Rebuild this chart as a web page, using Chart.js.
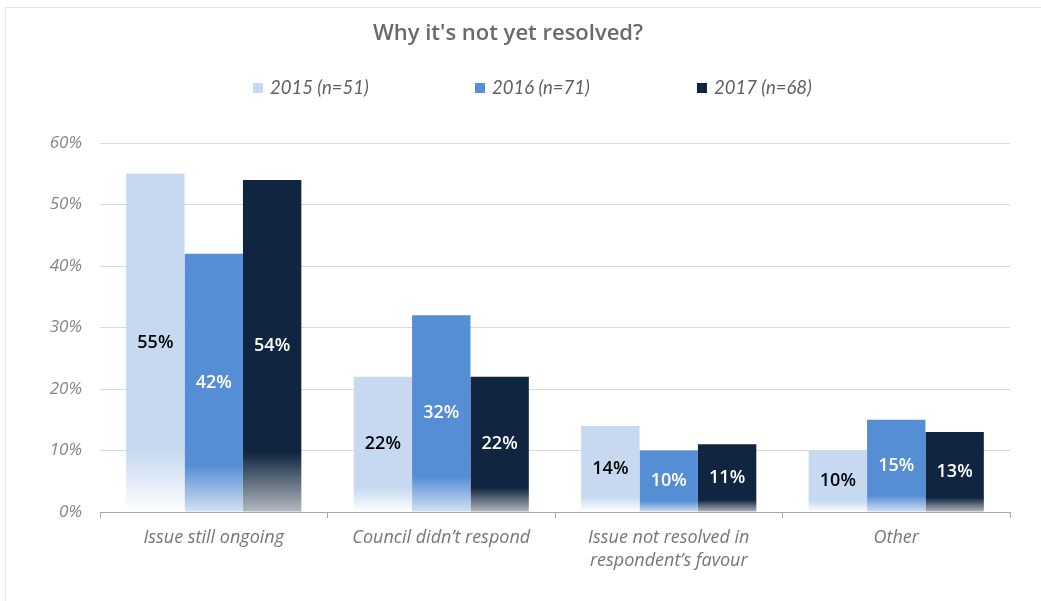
<!DOCTYPE html>
<html lang="en">
  <head>
    <meta charset="UTF-8" />
    <title>Why it's not yet resolved?</title>
    <script src="https://cdn.jsdelivr.net/npm/chart.js@4.4.0/dist/chart.umd.min.js"></script>
    <style>
      body { margin: 0; background: #fff; }
    </style>
  </head>
  <body>
    <canvas id="myChart" width="1041" height="601"></canvas>
    <script>
      const categories = [
        'Issue still ongoing',
        'Council didn\u2019t respond',
        ['Issue not resolved in', 'respondent\u2019s favour'],
        'Other'
      ];
      const seriesNames = ['2015 (n=51)', '2016 (n=71)', '2017 (n=68)'];
      const values2015 = [55, 22, 14, 10];
      const values2016 = [42, 32, 10, 15];
      const values2017 = [54, 22, 11, 13];
      const yTicks = [0, 10, 20, 30, 40, 50, 60];

      const colours = ['#c6d9f1', '#558ed5', '#10253f'];
      const fadeTo = ['#ffffff', '#d3e1f3', '#b4b9c0'];
      const labelColours = ['#000000', '#ffffff', '#ffffff'];

      // solid colour down most of the bar, then a wash out towards the axis
      function barFill(i) {
        return function (ctx) {
          const chart = ctx.chart;
          if (ctx.type !== 'data' || !chart.chartArea || !chart.scales.y) return colours[i];
          const y = chart.scales.y;
          const top = y.getPixelForValue(ctx.raw);
          const base = y.getPixelForValue(0);
          if (!isFinite(top) || base - top < 1) return colours[i];
          const g = chart.ctx.createLinearGradient(0, top, 0, base);
          g.addColorStop(0, colours[i]);
          g.addColorStop(0.82, colours[i]);
          g.addColorStop(1, fadeTo[i]);
          return g;
        };
      }

      const frame = {
        id: 'frame',
        beforeDraw(chart) {
          const c = chart.ctx;
          c.save();
          c.fillStyle = '#ffffff';
          c.fillRect(0, 0, chart.width, chart.height);
          c.strokeStyle = '#e2e2e2';
          c.lineWidth = 1;
          c.strokeRect(5.5, 7.5, chart.width + 10, chart.height + 10);
          c.restore();
        }
      };

      const legendRow = {
        id: 'legendRow',
        afterDraw(chart) {
          const c = chart.ctx;
          c.save();
          c.font = 'italic 18.5px Lato';
          c.textBaseline = 'middle';
          chart.data.datasets.forEach((ds, i) => {
            const x = 253 + i * 222;
            c.fillStyle = colours[i];
            c.fillRect(x, 83, 10, 10);
            c.fillStyle = '#5f5f5f';
            c.fillText(ds.label, x + 17, 88);
          });
          c.restore();
        }
      };

      const valueLabels = {
        id: 'valueLabels',
        afterDatasetsDraw(chart) {
          const c = chart.ctx;
          c.save();
          c.font = '600 18px "Open Sans"';
          c.textAlign = 'center';
          c.textBaseline = 'middle';
          chart.data.datasets.forEach((ds, i) => {
            const meta = chart.getDatasetMeta(i);
            meta.data.forEach((bar, j) => {
              c.fillStyle = labelColours[i];
              c.fillText(ds.data[j] + '%', bar.x, (bar.y + bar.base) / 2);
            });
          });
          c.restore();
        }
      };

      const ctx = document.getElementById('myChart').getContext('2d');
      const myChart = new Chart(ctx, {
        type: 'bar',
        data: {
          labels: categories,
          datasets: [values2015, values2016, values2017].map((d, i) => ({
            label: seriesNames[i],
            data: d,
            backgroundColor: barFill(i),
            borderWidth: 0,
            categoryPercentage: 0.77,
            barPercentage: 1.0
          }))
        },
        options: {
          responsive: false,
          animation: false,
          layout: { padding: { left: 6, right: 31, top: 0, bottom: 0 } },
          plugins: {
            legend: { display: false },
            tooltip: { enabled: false },
            title: {
              display: true,
              text: 'Why it\'s not yet resolved?',
              color: '#6a6a6a',
              font: { family: 'Open Sans', size: 22, weight: '600', lineHeight: 1.2 },
              padding: { top: 21, bottom: 95.6 }
            }
          },
          scales: {
            x: {
              offset: true,
              grid: {
                offset: true,
                drawOnChartArea: false,
                drawTicks: true,
                tickLength: 6,
                color: '#a6a6a6'
              },
              border: { display: true, color: '#a6a6a6' },
              ticks: {
                color: '#767676',
                padding: 8,
                maxRotation: 0,
                font: { family: 'Open Sans', size: 18, style: 'italic', lineHeight: 1.3 }
              },
              afterFit(s) { s.height = 89; }
            },
            y: {
              min: 0,
              max: 60,
              afterBuildTicks(s) { s.ticks = yTicks.map(v => ({ value: v })); },
              grid: { color: '#d9d9d9', drawTicks: false },
              border: { display: false },
              ticks: {
                color: '#858585',
                padding: 18,
                font: { family: 'Open Sans', size: 17, style: 'italic' },
                callback: v => v + '%'
              },
              afterFit(s) { s.width = 94; }
            }
          }
        },
        plugins: [frame, legendRow, valueLabels]
      });
    </script>
  </body>
</html>
